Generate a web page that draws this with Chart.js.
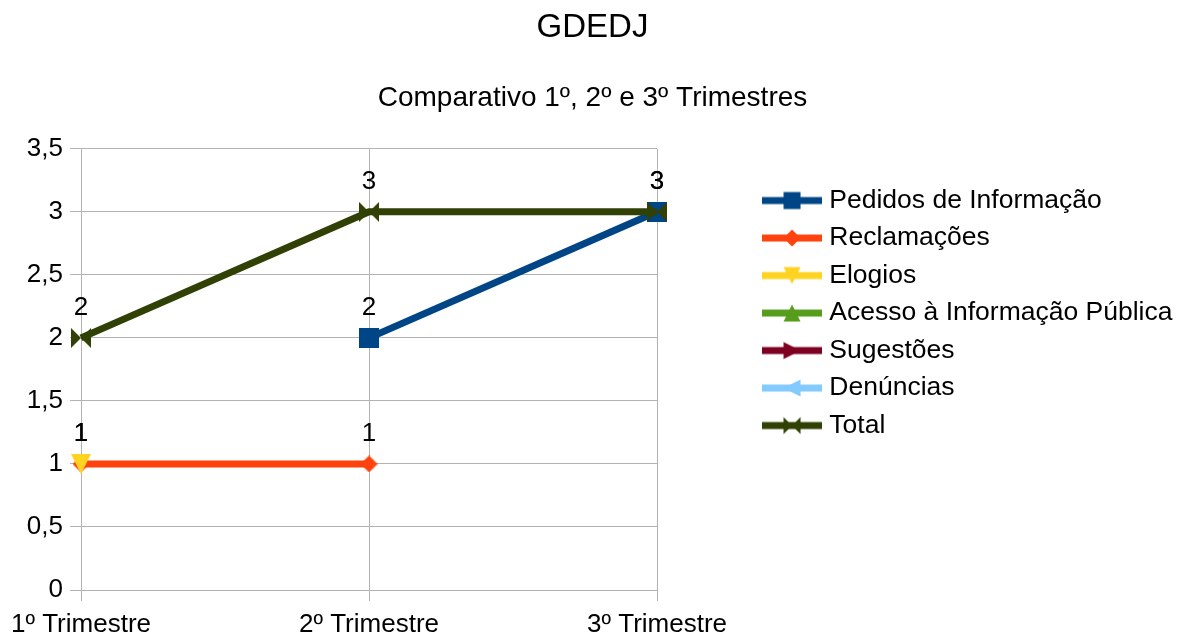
<!DOCTYPE html>
<html>
<head>
<meta charset="utf-8">
<script src="https://cdn.jsdelivr.net/npm/chart.js@4/dist/chart.umd.min.js"></script>
<style>
  html, body { margin: 0; padding: 0; background: #fff; }
  #wrap { width: 1185px; height: 640px; }
</style>
</head>
<body>
<div id="wrap"><canvas id="chart"></canvas></div>
<script>
// dados do gráfico
const categories = ['1º Trimestre', '2º Trimestre', '3º Trimestre'];
const pedidos = [null, 2, 3];
const reclamacoes = [1, 1, null];
const elogios = [1, null, null];
const acesso = [null, null, null];
const sugestoes = [null, null, null];
const denuncias = [null, null, null];
const total = [2, 3, 3];
const yTickLabels = ['0', '0,5', '1', '1,5', '2', '2,5', '3', '3,5'];

const FONT = '"Liberation Sans", Arial, sans-serif';

// desenha um marcador num canvas pequeno
function drawShape(ctx, shape, color, cx, cy, s) {
    const h = s / 2;
    ctx.fillStyle = color;
    ctx.beginPath();
    if (shape === 'square') {
        ctx.rect(cx - h, cy - h, s, s);
    } else if (shape === 'diamond') {
        ctx.moveTo(cx, cy - h); ctx.lineTo(cx + h, cy); ctx.lineTo(cx, cy + h); ctx.lineTo(cx - h, cy);
    } else if (shape === 'down') {
        ctx.moveTo(cx - h, cy - h); ctx.lineTo(cx + h, cy - h); ctx.lineTo(cx, cy + h);
    } else if (shape === 'up') {
        ctx.moveTo(cx - h, cy + h); ctx.lineTo(cx + h, cy + h); ctx.lineTo(cx, cy - h);
    } else if (shape === 'right') {
        ctx.moveTo(cx - h, cy - h); ctx.lineTo(cx - h, cy + h); ctx.lineTo(cx + h, cy);
    } else if (shape === 'left') {
        ctx.moveTo(cx + h, cy - h); ctx.lineTo(cx + h, cy + h); ctx.lineTo(cx - h, cy);
    } else if (shape === 'bowtie') {
        ctx.moveTo(cx - h, cy - h); ctx.lineTo(cx - h, cy + h); ctx.lineTo(cx, cy);
        ctx.closePath();
        ctx.moveTo(cx + h, cy - h); ctx.lineTo(cx + h, cy + h); ctx.lineTo(cx, cy);
    }
    ctx.closePath();
    ctx.fill();
}

function makeMarker(shape, color, size) {
    const c = document.createElement('canvas');
    c.width = size; c.height = size;
    drawShape(c.getContext('2d'), shape, color, size / 2, size / 2, size);
    return c;
}

function makeLegendIcon(shape, color) {
    const c = document.createElement('canvas');
    c.width = 60; c.height = 20;
    const ctx = c.getContext('2d');
    ctx.fillStyle = color;
    ctx.fillRect(0, 6.5, 60, 7);
    drawShape(ctx, shape, color, 30, 10, 17);
    return c;
}

const series = [
    { label: 'Pedidos de Informação', data: pedidos, color: '#004586', shape: 'square' },
    { label: 'Reclamações', data: reclamacoes, color: '#ff420e', shape: 'diamond' },
    { label: 'Elogios', data: elogios, color: '#ffd320', shape: 'down' },
    { label: 'Acesso à Informação Pública', data: acesso, color: '#579d1c', shape: 'up' },
    { label: 'Sugestões', data: sugestoes, color: '#7e0021', shape: 'right' },
    { label: 'Denúncias', data: denuncias, color: '#83caff', shape: 'left' },
    { label: 'Total', data: total, color: '#314004', shape: 'bowtie' }
];

const legendIcons = series.map(s => makeLegendIcon(s.shape, s.color));

const datasets = series.map((s, i) => ({
    label: s.label,
    data: s.data,
    borderColor: s.color,
    backgroundColor: s.color,
    borderWidth: 7,
    pointStyle: makeMarker(s.shape, s.color, s.shape === 'diamond' ? 17 : 20),
    pointRadius: 10,
    tension: 0,
    spanGaps: false,
    order: series.length - i
}));

// rótulos de valor acima dos pontos
const valueLabels = {
    id: 'valueLabels',
    afterDatasetsDraw(chart) {
        const ctx = chart.ctx;
        ctx.save();
        ctx.font = '26px ' + FONT;
        ctx.fillStyle = '#000';
        ctx.textAlign = 'center';
        ctx.textBaseline = 'middle';
        chart.data.datasets.forEach((ds, i) => {
            const meta = chart.getDatasetMeta(i);
            meta.data.forEach((pt, j) => {
                const v = ds.data[j];
                if (v === null || v === undefined) return;
                ctx.fillText(String(v).replace('.', ','), pt.x, pt.y - 30);
            });
        });
        ctx.restore();
    }
};

// a legenda precisa de mais largura do que o layout dá por padrão
const legendWidthFix = {
    id: 'legendWidthFix',
    beforeLayout(chart) {
        const lg = chart.legend;
        if (lg && !lg._wide) {
            const origUpdate = lg.update;
            lg.update = function (w, h, m) { return origUpdate.call(this, 600, h, m); };
            const origFit = lg.fit;
            lg.fit = function () { origFit.call(this); this.width += 2.5; };
            lg._wide = true;
        }
    }
};

new Chart(document.getElementById('chart'), {
    type: 'line',
    data: { labels: categories, datasets: datasets },
    plugins: [valueLabels, legendWidthFix],
    options: {
        responsive: true,
        maintainAspectRatio: false,
        animation: false,
        layout: { padding: 0 },
        plugins: {
            tooltip: { enabled: false },
            title: {
                display: true,
                text: 'GDEDJ',
                color: '#000',
                font: { family: FONT, size: 33, weight: 'normal' },
                padding: { top: 8, bottom: 20 }
            },
            subtitle: {
                display: true,
                text: 'Comparativo 1º, 2º e 3º Trimestres',
                color: '#000',
                font: { family: FONT, size: 28, weight: 'normal' },
                padding: { top: 13.6, bottom: 34 }
            },
            legend: {
                position: 'right',
                align: 'start',
                fullSize: false,
                title: { display: true, text: ' ', font: { size: 10 }, padding: 7.75 },
                labels: {
                    usePointStyle: true,
                    pointStyleWidth: 48,
                    padding: 11,
                    color: '#000',
                    font: { family: FONT, size: 26.5 },
                    generateLabels(chart) {
                        return chart.data.datasets.map((ds, i) => ({
                            text: ds.label,
                            pointStyle: legendIcons[i],
                            fillStyle: ds.borderColor,
                            strokeStyle: ds.borderColor,
                            fontColor: '#000',
                            lineWidth: 0,
                            hidden: false,
                            datasetIndex: i
                        }));
                    }
                }
            }
        },
        scales: {
            x: {
                offset: false,
                grid: { color: '#b3b3b3', tickLength: 11, lineWidth: 1 },
                border: { color: '#b3b3b3' },
                ticks: { color: '#000', font: { family: FONT, size: 26 }, padding: 8, maxRotation: 0 },
                afterFit(s) { s.height = 50; }
            },
            y: {
                min: 0,
                max: 3.5,
                grid: { color: '#b3b3b3', tickLength: 11, lineWidth: 1 },
                border: { color: '#b3b3b3' },
                ticks: {
                    stepSize: 0.5,
                    color: '#000',
                    font: { family: FONT, size: 26 },
                    padding: 7,
                    callback: (v, idx) => yTickLabels[idx]
                },
                afterFit(s) { s.width = 81; }
            },
            gap: {
                position: 'right',
                display: true,
                grid: { display: false, drawTicks: false },
                border: { display: false },
                ticks: { display: false },
                afterFit(s) { s.width = 100; }
            }
        }
    }
});
</script>
</body>
</html>
